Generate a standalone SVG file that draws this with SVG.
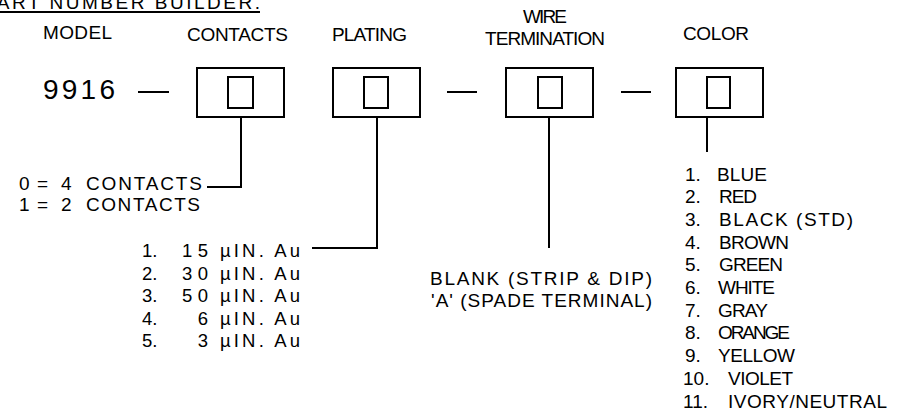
<svg xmlns="http://www.w3.org/2000/svg" width="902" height="416" viewBox="0 0 902 416">
<style>
text{font-family:"Liberation Sans",Arial,sans-serif;font-size:19px;fill:#000}
.big{font-size:28px}
.pl{font-size:18.5px}
.ln{stroke:#000;stroke-width:2;fill:none}
.box{stroke:#000;stroke-width:2;fill:#fff}
</style>
<rect width="902" height="416" fill="#fff"/>
<g id="title">
<text x="-17" y="8.5" textLength="277" lengthAdjust="spacing">PART NUMBER BUILDER.</text>
<line class="ln" x1="0" y1="12" x2="260" y2="12"/>
</g>
<g id="headers">
<text x="43" y="39" textLength="69" lengthAdjust="spacing">MODEL</text>
<text x="187" y="41" textLength="101" lengthAdjust="spacing">CONTACTS</text>
<text x="332" y="41" textLength="75" lengthAdjust="spacing">PLATING</text>
<text x="523" y="22.5" textLength="44" lengthAdjust="spacing">WIRE</text>
<text x="485" y="44.5" textLength="120" lengthAdjust="spacing">TERMINATION</text>
<text x="683" y="40" textLength="66" lengthAdjust="spacing">COLOR</text>
</g>
<g id="model">
<text class="big" x="43" y="99" textLength="72" lengthAdjust="spacing">9916</text>
</g>
<g id="box-contacts">
<rect class="box" x="197" y="68" width="87" height="49"/>
<rect class="box" x="228" y="77" width="25" height="31"/>
</g>
<g id="box-plating">
<rect class="box" x="333" y="68" width="87" height="49"/>
<rect class="box" x="364" y="77" width="24" height="31"/>
</g>
<g id="box-wire">
<rect class="box" x="506" y="68" width="87" height="49"/>
<rect class="box" x="538" y="77" width="24" height="31"/>
</g>
<g id="box-color">
<rect class="box" x="676" y="68" width="87" height="49"/>
<rect class="box" x="707" y="77" width="23" height="31"/>
</g>
<g id="connectors">
<line class="ln" x1="138" y1="92" x2="169" y2="92"/>
<line class="ln" x1="447" y1="92" x2="477" y2="92"/>
<line class="ln" x1="621" y1="92" x2="651" y2="92"/>
<polyline class="ln" points="241,117 241,187 207,187"/>
<polyline class="ln" points="377,117 377,248 312,248"/>
<line class="ln" x1="549" y1="117" x2="549" y2="248"/>
<line class="ln" x1="707" y1="117" x2="707" y2="152"/>
</g>
<g id="contacts-options">
<text x="19" y="190">0</text><text x="37" y="190">=</text><text x="61" y="190">4</text>
<text x="86" y="190" textLength="116" lengthAdjust="spacing">CONTACTS</text>
<text x="19" y="211">1</text><text x="37" y="211">=</text><text x="61" y="211">2</text>
<text x="86" y="211" textLength="114" lengthAdjust="spacing">CONTACTS</text>
</g>
<g id="plating-options">
<text class="pl" x="142" y="257">1.</text><text class="pl" x="208" y="257" text-anchor="end" textLength="26" lengthAdjust="spacing">15</text><text class="pl" x="220" y="257" textLength="80" lengthAdjust="spacing">µIN. Au</text>
<text class="pl" x="142" y="279.5">2.</text><text class="pl" x="208" y="279.5" text-anchor="end" textLength="26" lengthAdjust="spacing">30</text><text class="pl" x="220" y="279.5" textLength="80" lengthAdjust="spacing">µIN. Au</text>
<text class="pl" x="142" y="302">3.</text><text class="pl" x="208" y="302" text-anchor="end" textLength="26" lengthAdjust="spacing">50</text><text class="pl" x="220" y="302" textLength="80" lengthAdjust="spacing">µIN. Au</text>
<text class="pl" x="142" y="324.5">4.</text><text class="pl" x="208" y="324.5" text-anchor="end">6</text><text class="pl" x="220" y="324.5" textLength="80" lengthAdjust="spacing">µIN. Au</text>
<text class="pl" x="142" y="347">5.</text><text class="pl" x="208" y="347" text-anchor="end">3</text><text class="pl" x="220" y="347" textLength="80" lengthAdjust="spacing">µIN. Au</text>
</g>
<g id="wire-options">
<text x="430" y="285" textLength="222" lengthAdjust="spacing">BLANK (STRIP &amp; DIP)</text>
<text x="431" y="307" textLength="221" lengthAdjust="spacing">'A' (SPADE TERMINAL)</text>
</g>
<g id="color-options">
<text x="685" y="180.5">1.</text><text x="717" y="180.5" textLength="50" lengthAdjust="spacing">BLUE</text>
<text x="685" y="203.2">2.</text><text x="719" y="203.2" textLength="38" lengthAdjust="spacing">RED</text>
<text x="685" y="225.9">3.</text><text x="719" y="225.9" textLength="134" lengthAdjust="spacing">BLACK (STD)</text>
<text x="685" y="248.6">4.</text><text x="719" y="248.6" textLength="70" lengthAdjust="spacing">BROWN</text>
<text x="685" y="271.3">5.</text><text x="719" y="271.3" textLength="64" lengthAdjust="spacing">GREEN</text>
<text x="685" y="294">6.</text><text x="718" y="294" textLength="57" lengthAdjust="spacing">WHITE</text>
<text x="685" y="316.7">7.</text><text x="718" y="316.7" textLength="50" lengthAdjust="spacing">GRAY</text>
<text x="685" y="339.4">8.</text><text x="718" y="339.4" textLength="72" lengthAdjust="spacing">ORANGE</text>
<text x="685" y="362.1">9.</text><text x="718" y="362.1" textLength="77" lengthAdjust="spacing">YELLOW</text>
<text x="683" y="384.8">10.</text><text x="728" y="384.8" textLength="65" lengthAdjust="spacing">VIOLET</text>
<text x="683" y="407.5">11.</text><text x="728" y="407.5" textLength="159" lengthAdjust="spacing">IVORY/NEUTRAL</text>
</g>
</svg>
